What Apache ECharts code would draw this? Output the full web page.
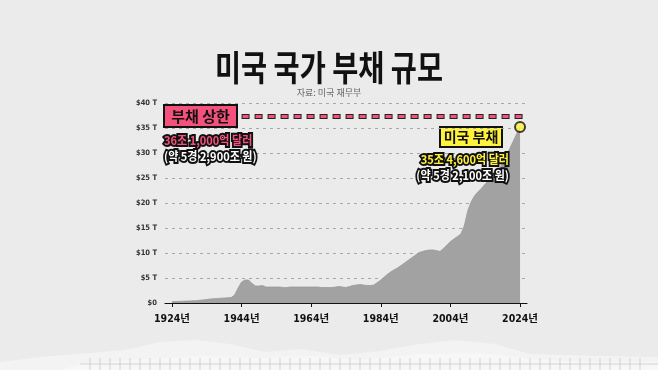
<!DOCTYPE html>
<html><head><meta charset="utf-8">
<script src="https://cdn.jsdelivr.net/npm/echarts@6/dist/echarts.min.js"></script>
<style>html,body{margin:0;padding:0;background:#ececec}#c{width:658px;height:370px}</style>
</head><body><div id="c"></div>
<script>
// ---- data ----
const firstYear = 1924;
const lastYear = 2024;
// US federal debt (trillion USD, as drawn), 1924..2024
const debt = [
 0.27,0.3,0.32,0.35,0.38,0.4,0.43,0.47,0.55,0.62,
 0.7,0.8,0.85,0.9,0.95,1.0,1.05,1.1,1.6,3.0,
 4.2,4.6,4.6,3.9,3.4,3.4,3.5,3.2,3.2,3.2,
 3.2,3.2,3.1,3.1,3.2,3.2,3.2,3.2,3.2,3.2,
 3.2,3.2,3.2,3.1,3.1,3.1,3.1,3.2,3.3,3.2,
 3.1,3.3,3.5,3.6,3.7,3.6,3.5,3.5,3.6,4.1,
 4.6,5.2,5.8,6.3,6.7,7.1,7.6,8.1,8.6,9.1,
 9.6,10.1,10.3,10.5,10.6,10.6,10.5,10.3,10.9,11.6,
 12.3,12.8,13.3,13.8,15.5,18.5,20.3,21.5,22.3,23.0,
 23.8,24.5,25.2,25.9,26.9,27.9,29.5,30.8,32.3,33.8,
 35.2
];
const ceilingLevel = 37.4;
const yTicks = [0,5,10,15,20,25,30,35,40];
const labelYears = [1924,1944,1964,1984,2004,2024];

// categories with a small pad on both sides
const categories = [];
for (let y = firstYear - 2; y <= lastYear + 2; y++) categories.push(String(y));
const seriesData = categories.map(c => {
  const i = Number(c) - firstYear;
  return (i >= 0 && i < debt.length) ? debt[i] : null;
});
const lastPoint = [String(lastYear), debt[debt.length - 1]];

const chart = echarts.init(document.getElementById('c'), null, {renderer: 'canvas'});
const cond = "'DejaVu Sans Condensed','Noto Sans CJK KR',sans-serif";

// decorative torn paper at bottom
const deco = [];
deco.push({type:'polygon', z:-10, shape:{points:[[0,370],[0,362],[40,357],[90,353],[125,350],[160,342],[195,340],[230,344],[265,352],[300,349],[340,355],[380,351],[420,344],[455,340],[495,344],[530,354],[600,356],[658,357],[658,370]]}, style:{fill:'#f3f3f3'}});
deco.push({type:'polygon', z:-9, shape:{points:[[60,370],[80,364],[130,360],[200,356],[260,358],[310,356],[360,360],[420,354],[480,353],[540,360],[600,362],[658,362],[658,370]]}, style:{fill:'#f7f7f7'}});
for (let x = 90; x <= 640; x += 10) {
  deco.push({type:'line', z:-8, shape:{x1:x,y1:358,x2:x,y2:370}, style:{stroke:'#bdbdbd', lineWidth:0.6}});
}
deco.push({type:'line', z:-8, shape:{x1:80,y1:364,x2:658,y2:364}, style:{stroke:'#bdbdbd', lineWidth:0.6}});

// outlined text: a stroked black copy underneath, the coloured fill on top
const outlined = (x, y, text, fill, align) => ({
  type:'group', x:x, y:y, scaleX:0.92,
  children:[
    {type:'text', z:20, style:{text:text, font:"bold 12px 'Noto Sans CJK KR'", fill:'#111', stroke:'#111', lineWidth:4, lineJoin:'round', align:align, verticalAlign:'middle'}},
    {type:'text', z:21, style:{text:text, font:"bold 12px 'Noto Sans CJK KR'", fill:fill, align:align, verticalAlign:'middle'}}
  ]
});

const option = {
  backgroundColor: '#ebebeb',
  animation: false,
  grid: {left: 165, right: 131, top: 103, bottom: 67},
  xAxis: {
    type: 'category', data: categories, boundaryGap: false,
    axisLine: {show: true, lineStyle: {color: '#111', width: 1.2}},
    axisTick: {show: true, length: 4, lineStyle: {color: '#111'},
      interval: (i, v) => labelYears.indexOf(Number(v)) >= 0},
    axisLabel: {interval: (i, v) => labelYears.indexOf(Number(v)) >= 0,
      formatter: v => v + '년', color: '#111', fontSize: 10.5, fontWeight: 'bold',
      fontFamily: cond, margin: 11},
    splitLine: {show: false}
  },
  yAxis: {
    type: 'value', min: 0, max: 40, interval: 5,
    axisLine: {show: false}, axisTick: {show: false},
    axisLabel: {formatter: v => v === 0 ? '$0' : '$' + v + ' T', color: '#333',
      fontSize: 7.5, fontWeight: 'bold', fontFamily: cond, margin: 8},
    splitLine: {show: true, lineStyle: {color: '#a8a8a8', type: [3, 4], width: 1}}
  },
  graphic: deco.concat([
    {type:'text', x:329, y:68, style:{text:'미국 국가 부채 규모', font:"bold 35px 'Noto Sans CJK KR'", fill:'#111', align:'center', verticalAlign:'middle'}, scaleX:0.81},
    {type:'text', x:329, y:93, style:{text:'자료: 미국 재무부', font:"9px 'Noto Sans CJK KR'", fill:'#666', align:'center', verticalAlign:'middle'}},
    {type:'rect', shape:{x:164, y:105, width:73, height:22}, style:{fill:'#f4527c', stroke:'#111', lineWidth:2}},
    {type:'text', x:200.5, y:116, style:{text:'부채 상한', font:"bold 15px 'Noto Sans CJK KR'", fill:'#111', align:'center', verticalAlign:'middle'}},
    outlined(164, 140, '36조 1,000억 달러', '#f4527c', 'left'),
    outlined(164, 156, '(약 5경 2,900조 원)', '#fff', 'left'),
    {type:'rect', shape:{x:440, y:127, width:62, height:20}, style:{fill:'#fff23c', stroke:'#111', lineWidth:2}},
    {type:'text', x:471, y:137, style:{text:'미국 부채', font:"bold 14px 'Noto Sans CJK KR'", fill:'#111', align:'center', verticalAlign:'middle'}},
    outlined(509, 159, '35조 4,600억 달러', '#fff23c', 'right'),
    outlined(509, 175, '(약 5경 2,100조 원)', '#fff', 'right')
  ]),
  series: [
    {
      type: 'line', data: seriesData, showSymbol: false, connectNulls: false,
      lineStyle: {width: 0.8, color: '#9a9a9a'},
      areaStyle: {color: '#a2a2a2', opacity: 1},
      markLine: {
        silent: true, symbol: 'none', label: {show: false},
        data: [
          [{coord: ['1944', ceilingLevel], lineStyle: {color: '#222', width: 5, type: [8, 5]}},
           {coord: ['2025', ceilingLevel]}],
          [{coord: ['1944', ceilingLevel], lineStyle: {color: '#f4527c', width: 3, type: [6, 7], dashOffset: -1}},
           {coord: ['2025', ceilingLevel]}]
        ]
      }
    },
    {
      type: 'scatter', data: [lastPoint], symbol: 'circle', symbolSize: 10, z: 10,
      itemStyle: {color: '#fff23c', borderColor: '#111', borderWidth: 2}
    }
  ]
};
chart.setOption(option);
</script></body></html>
